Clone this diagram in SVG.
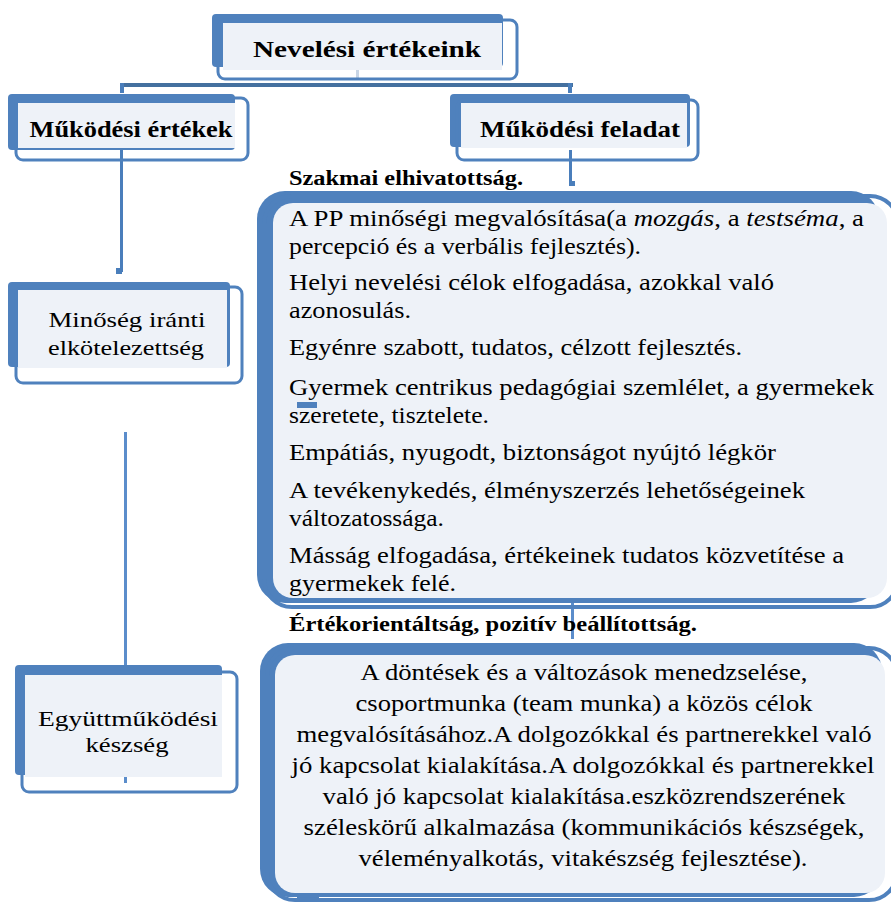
<svg xmlns="http://www.w3.org/2000/svg" width="891" height="902" viewBox="0 0 891 902">
<defs>
<style>
.back{fill:#4F81BD}
.outl{fill:none;stroke:#4F81BD;stroke-width:3}
.outl4{fill:none;stroke:#4F81BD;stroke-width:4}
.inner{fill:#EEF2F8}
.con{fill:#4A7EBB}
.conl{fill:#5B8DCB}
text{fill:#000}
.hb{font-size:24px;font-weight:bold}
.tb{font-size:20px;font-weight:bold}
.tr{font-size:22px}
.tn{font-size:23px}
</style>
</defs>
<rect width="891" height="902" fill="#fff"/>
<g id="connectors">
<rect x="356" y="70" width="3" height="10" fill="#C9D6E6"/>
<rect x="120" y="83" width="453" height="4" fill="#44709F"/>
<rect x="120" y="83" width="4" height="10" class="con"/>
<rect x="568" y="83" width="4" height="10" class="con"/>
<rect x="120" y="150" width="3" height="122" class="con"/>
<rect x="116" y="268" width="6" height="6" class="con"/>
<rect x="569" y="150" width="3" height="35" class="con"/>
<rect x="569" y="181" width="6" height="5" class="con"/>
<rect x="124" y="432" width="3" height="351" class="conl"/>
<rect x="571" y="597" width="3" height="42" class="conl"/>
</g>
<g font-family="Liberation Serif, Times New Roman, DejaVu Serif, serif">
<g id="n-nevelesi">
<rect x="212" y="14" width="291" height="53" rx="4" class="back"/>
<rect x="218" y="20" width="299" height="59" rx="7" class="outl"/>
<rect x="223" y="23" width="279" height="47" class="inner"/>
<text x="367" y="57" class="hb" text-anchor="middle" textLength="228" lengthAdjust="spacingAndGlyphs">Nevelési értékeink</text>
</g>
<g id="n-mukodesi-ertekek">
<rect x="8" y="94" width="227" height="56" rx="4" class="back"/>
<rect x="16" y="98" width="232" height="62" rx="7" class="outl"/>
<rect x="18" y="103" width="217" height="45" class="inner"/>
<text x="131" y="137" class="hb" text-anchor="middle" textLength="203" lengthAdjust="spacingAndGlyphs">Működési értékek</text>
</g>
<g id="n-mukodesi-feladat">
<rect x="450" y="94" width="240" height="53" rx="4" class="back"/>
<rect x="457" y="100" width="241" height="60" rx="7" class="outl"/>
<rect x="461" y="103" width="226" height="45" class="inner"/>
<text x="580" y="137" class="hb" text-anchor="middle" textLength="200" lengthAdjust="spacingAndGlyphs">Működési feladat</text>
</g>
<g id="n-minoseg">
<rect x="8" y="282" width="222" height="85" rx="4" class="back"/>
<rect x="16" y="287" width="226" height="96" rx="7" class="outl"/>
<rect x="18" y="290" width="209" height="78" class="inner"/>
<text x="127" y="327" class="tr" text-anchor="middle" textLength="157" lengthAdjust="spacingAndGlyphs">Minőség iránti</text>
<text x="126" y="355" class="tr" text-anchor="middle" textLength="156" lengthAdjust="spacingAndGlyphs">elkötelezettség</text>
</g>
<g id="n-egyuttmukodesi">
<rect x="15" y="665" width="207" height="110" rx="4" class="back"/>
<rect x="22" y="672" width="215" height="120" rx="7" class="outl"/>
<rect x="25" y="675" width="197" height="102" class="inner"/>
<text x="128" y="726" class="tr" text-anchor="middle" textLength="180" lengthAdjust="spacingAndGlyphs">Együttműködési</text>
<text x="127" y="752" class="tr" text-anchor="middle" textLength="83" lengthAdjust="spacingAndGlyphs">készség</text>
</g>
<g id="n-szakmai-label">
<text x="289" y="185" class="tb" textLength="234" lengthAdjust="spacingAndGlyphs">Szakmai elhivatottság.</text>
</g>
<g id="n-szakmai">
<rect x="257" y="191" width="622" height="412" rx="28" class="back"/>
<rect x="264" y="196" width="634" height="411" rx="28" class="outl4"/>
<rect x="273" y="203" width="614" height="395" rx="20" class="inner"/>
<rect x="297" y="402" width="20" height="6" class="back"/>
<text x="289" y="226" class="tn" textLength="575" lengthAdjust="spacingAndGlyphs">A PP minőségi megvalósítása(a <tspan font-style="italic">mozgás</tspan>, a <tspan font-style="italic">testséma</tspan>, a</text>
<text x="289" y="254" class="tn" textLength="352" lengthAdjust="spacingAndGlyphs">percepció és a verbális fejlesztés).</text>
<text x="289" y="290" class="tn" textLength="485" lengthAdjust="spacingAndGlyphs">Helyi nevelési célok elfogadása, azokkal való</text>
<text x="289" y="318" class="tn" textLength="122" lengthAdjust="spacingAndGlyphs">azonosulás.</text>
<text x="289" y="355" class="tn" textLength="453" lengthAdjust="spacingAndGlyphs">Egyénre szabott, tudatos, célzott fejlesztés.</text>
<text x="289" y="395" class="tn" textLength="585" lengthAdjust="spacingAndGlyphs">Gyermek centrikus pedagógiai szemlélet, a gyermekek</text>
<text x="289" y="423" class="tn" textLength="200" lengthAdjust="spacingAndGlyphs">szeretete, tisztelete.</text>
<text x="289" y="460" class="tn" textLength="487" lengthAdjust="spacingAndGlyphs">Empátiás, nyugodt, biztonságot nyújtó légkör</text>
<text x="289" y="498" class="tn" textLength="516" lengthAdjust="spacingAndGlyphs">A tevékenykedés, élményszerzés lehetőségeinek</text>
<text x="289" y="526" class="tn" textLength="155" lengthAdjust="spacingAndGlyphs">változatossága.</text>
<text x="289" y="563" class="tn" textLength="555" lengthAdjust="spacingAndGlyphs">Másság elfogadása, értékeinek tudatos közvetítése a</text>
<text x="289" y="591" class="tn" textLength="167" lengthAdjust="spacingAndGlyphs">gyermekek felé.</text>
</g>
<g id="n-ertek-label">
<text x="289" y="631" class="tb" textLength="408" lengthAdjust="spacingAndGlyphs">Értékorientáltság, pozitív beállítottság.</text>
</g>
<g id="n-ertek">
<rect x="260" y="643" width="622" height="254" rx="28" class="back"/>
<rect x="267" y="648" width="630" height="252" rx="28" class="outl4"/>
<rect x="275" y="655" width="610" height="238" rx="20" class="inner"/>
<rect x="297" y="893" width="22" height="5" class="back"/>
<text x="584" y="680" class="tn" text-anchor="middle" textLength="447" lengthAdjust="spacingAndGlyphs">A döntések és a változások menedzselése,</text>
<text x="584" y="711" class="tn" text-anchor="middle" textLength="457" lengthAdjust="spacingAndGlyphs">csoportmunka (team munka) a közös célok</text>
<text x="584" y="742" class="tn" text-anchor="middle" textLength="575" lengthAdjust="spacingAndGlyphs">megvalósításához.A dolgozókkal és partnerekkel való</text>
<text x="583" y="773" class="tn" text-anchor="middle" textLength="583" lengthAdjust="spacingAndGlyphs">jó kapcsolat kialakítása.A dolgozókkal és partnerekkel</text>
<text x="584" y="804" class="tn" text-anchor="middle" textLength="523" lengthAdjust="spacingAndGlyphs">való jó kapcsolat kialakítása.eszközrendszerének</text>
<text x="584" y="835" class="tn" text-anchor="middle" textLength="561" lengthAdjust="spacingAndGlyphs">széleskörű alkalmazása (kommunikációs készségek,</text>
<text x="583" y="866" class="tn" text-anchor="middle" textLength="449" lengthAdjust="spacingAndGlyphs">véleményalkotás, vitakészség fejlesztése).</text>
</g>
</g>
</svg>
